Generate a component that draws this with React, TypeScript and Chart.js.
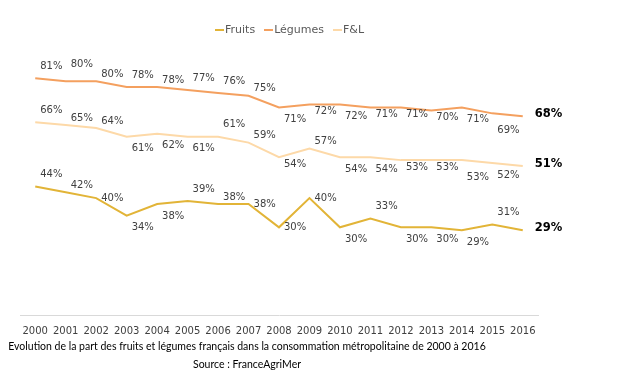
import React, { useEffect, useRef } from "react";
import { Chart, registerables } from "chart.js";

Chart.register(...registerables);

const years = ["2000", "2001", "2002", "2003", "2004", "2005", "2006", "2007", "2008", "2009", "2010", "2011", "2012", "2013", "2014", "2015", "2016"];
const fruits = [44, 42, 40, 34, 38, 39, 38, 38, 30, 40, 30, 33, 30, 30, 29, 31, 29];
const legumes = [81, 80, 80, 78, 78, 77, 76, 75, 71, 72, 72, 71, 71, 70, 71, 69, 68];
const fetl = [66, 65, 64, 61, 62, 61, 61, 59, 54, 57, 54, 54, 53, 53, 53, 52, 51];
const seriesNames = ["Fruits", "Légumes", "F&L"];
const seriesColors = ["#E2B437", "#F4A05F", "#FDD9A8"];

// label placement codes: T/A/a above, r level, c/b/B below
const fruitsPlace = ["A", "a", "r", "b", "b", "A", "a", "r", "r", "r", "b", "A", "b", "b", "b", "A"];
const legumesPlace = ["A", "T", "a", "A", "a", "A", "A", "a", "b", "c", "b", "c", "c", "c", "b", "B"];
const fetlPlace = ["A", "a", "a", "b", "b", "b", "A", "a", "c", "a", "b", "b", "c", "c", "B", "b"];

const caption1 = "Evolution de la part des fruits et légumes français dans la consommation métropolitaine de 2000 à 2016";
const caption2 = "Source : FranceAgriMer";

const OFF: Record<string, number> = { T: -17, A: -12, a: -7, r: 0, c: 7, b: 12, B: 17 };
const FONT = "'DejaVu Sans', sans-serif";

const placements = [fruitsPlace, legumesPlace, fetlPlace];

const labelPlugin = {
  id: "pointLabels",
  afterDatasetsDraw(chart: any) {
    const ctx = chart.ctx;
    chart.data.datasets.forEach((ds: any, di: number) => {
      const meta = chart.getDatasetMeta(di);
      const codes = placements[di];
      meta.data.forEach((pt: any, i: number) => {
        const v = ds.data[i];
        const last = i === meta.data.length - 1;
        ctx.save();
        ctx.textBaseline = "middle";
        ctx.textAlign = "left";
        if (last) {
          ctx.font = `bold 11.5px ${FONT}`;
          ctx.fillStyle = "#000000";
          ctx.fillText(`${v}%`, pt.x + 12, pt.y - 2);
        } else {
          ctx.font = `10px ${FONT}`;
          ctx.fillStyle = "#404040";
          ctx.fillText(`${v}%`, pt.x + 5, pt.y + OFF[codes[i]]);
        }
        ctx.restore();
      });
    });
  },
};

export default function App() {
  const ref = useRef<HTMLCanvasElement | null>(null);

  useEffect(() => {
    if (!ref.current) return;
    const values = [fruits, legumes, fetl];
    const chart = new Chart(ref.current, {
      type: "line",
      data: {
        labels: years,
        datasets: values.map((d, i) => ({
          label: seriesNames[i],
          data: d,
          borderColor: seriesColors[i],
          backgroundColor: seriesColors[i],
          borderWidth: 2,
          pointRadius: 0,
          tension: 0,
          fill: false,
        })),
      },
      options: {
        animation: false,
        responsive: false,
        layout: { padding: { left: 20, right: 79, top: 52, bottom: 42 } },
        plugins: { legend: { display: false }, tooltip: { enabled: false } },
        scales: {
          x: {
            type: "category",
            offset: true,
            grid: { display: false, drawTicks: false },
            border: { display: true, color: "#D9D9D9", width: 1 },
            ticks: { color: "#404040", font: { family: FONT, size: 10 }, padding: 10, maxRotation: 0, autoSkip: false },
          },
          y: { display: false, min: 0, max: 90 },
        },
      },
      plugins: [labelPlugin],
    });
    return () => chart.destroy();
  }, []);

  return (
    <div style={{ position: "absolute", left: 0, top: 0, width: 617, height: 389, background: "#fff" }}>
      <canvas ref={ref} width={617} height={389} style={{ position: "absolute", left: 0, top: 0, width: 617, height: 389 }} />
      <div style={{ position: "absolute", top: 23, left: 215, display: "flex", alignItems: "center", fontFamily: FONT, fontSize: 11, lineHeight: "14px", color: "#595959", whiteSpace: "nowrap" }}>
        {seriesNames.map((n, i) => (
          <span key={n} style={{ display: "flex", alignItems: "center", marginRight: 9 }}>
            <span style={{ display: "inline-block", width: 9, height: 2, background: seriesColors[i], marginRight: 1 }} />
            <span>{n}</span>
          </span>
        ))}
      </div>
      <div style={{ position: "absolute", top: 339, left: 0, width: 494, textAlign: "center", fontFamily: "Lato, sans-serif", fontSize: 10.5, lineHeight: "14px", color: "#000", whiteSpace: "nowrap" }}>
        {caption1}
      </div>
      <div style={{ position: "absolute", top: 357, left: 0, width: 494, textAlign: "center", fontFamily: "Lato, sans-serif", fontSize: 10.5, lineHeight: "14px", color: "#000", whiteSpace: "nowrap" }}>
        {caption2}
      </div>
    </div>
  );
}
